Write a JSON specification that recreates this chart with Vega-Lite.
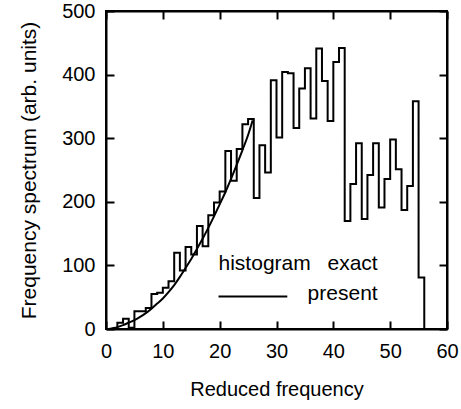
{
  "$schema": "https://vega.github.io/schema/vega-lite/v6.json",
  "width": 341,
  "height": 318,
  "autosize": "none",
  "padding": {"left": 106, "top": 11, "right": 14, "bottom": 80},
  "background": "white",
  "config": {
    "font": "Liberation Sans",
    "view": {"stroke": "black", "strokeWidth": 2},
    "axis": {
      "domainColor": "black",
      "domainWidth": 2,
      "tickColor": "black",
      "tickWidth": 2,
      "tickSize": -8,
      "grid": false,
      "labelColor": "black",
      "labelFont": "Liberation Sans",
      "labelFontSize": 20,
      "titleFont": "Liberation Sans",
      "titleFontSize": 20,
      "titleFontWeight": "normal",
      "titleColor": "black"
    }
  },
  "datasets": {
    "hist": [
      {"i": 0, "x": 2, "y": 0}, {"i": 1, "x": 2, "y": 10}, {"i": 2, "x": 3, "y": 16}, {"i": 3, "x": 4, "y": 2},
      {"i": 4, "x": 5, "y": 28}, {"i": 5, "x": 6, "y": 28}, {"i": 6, "x": 7, "y": 33}, {"i": 7, "x": 8, "y": 55},
      {"i": 8, "x": 9, "y": 57}, {"i": 9, "x": 10, "y": 65}, {"i": 10, "x": 11, "y": 75}, {"i": 11, "x": 12, "y": 120},
      {"i": 12, "x": 13, "y": 92}, {"i": 13, "x": 14, "y": 129}, {"i": 14, "x": 15, "y": 117}, {"i": 15, "x": 16, "y": 162},
      {"i": 16, "x": 17, "y": 130}, {"i": 17, "x": 18, "y": 179}, {"i": 18, "x": 19, "y": 199}, {"i": 19, "x": 20, "y": 216},
      {"i": 20, "x": 21, "y": 280}, {"i": 21, "x": 22, "y": 233}, {"i": 22, "x": 23, "y": 283}, {"i": 23, "x": 24, "y": 322},
      {"i": 24, "x": 25, "y": 330}, {"i": 25, "x": 26, "y": 206}, {"i": 26, "x": 27, "y": 289}, {"i": 27, "x": 28, "y": 246},
      {"i": 28, "x": 29, "y": 391}, {"i": 29, "x": 30, "y": 301}, {"i": 30, "x": 31, "y": 404}, {"i": 31, "x": 32, "y": 402},
      {"i": 32, "x": 33, "y": 316}, {"i": 33, "x": 34, "y": 378}, {"i": 34, "x": 35, "y": 410}, {"i": 35, "x": 36, "y": 331},
      {"i": 36, "x": 37, "y": 441}, {"i": 37, "x": 38, "y": 390}, {"i": 38, "x": 39, "y": 327}, {"i": 39, "x": 40, "y": 420},
      {"i": 40, "x": 41, "y": 442}, {"i": 41, "x": 42, "y": 170}, {"i": 42, "x": 43, "y": 228}, {"i": 43, "x": 44, "y": 292},
      {"i": 44, "x": 45, "y": 173}, {"i": 45, "x": 46, "y": 242}, {"i": 46, "x": 47, "y": 292}, {"i": 47, "x": 48, "y": 191},
      {"i": 48, "x": 49, "y": 236}, {"i": 49, "x": 50, "y": 298}, {"i": 50, "x": 51, "y": 251}, {"i": 51, "x": 52, "y": 187},
      {"i": 52, "x": 53, "y": 225}, {"i": 53, "x": 54, "y": 358}, {"i": 54, "x": 55, "y": 81}, {"i": 55, "x": 56, "y": 0}
    ],
    "curve": [
      {"x": 0.5, "y": 0}, {"x": 1, "y": 1}, {"x": 2, "y": 3}, {"x": 3, "y": 6}, {"x": 4, "y": 10},
      {"x": 5, "y": 14}, {"x": 6, "y": 19}, {"x": 7, "y": 25}, {"x": 8, "y": 32}, {"x": 9, "y": 40},
      {"x": 10, "y": 48}, {"x": 11, "y": 58}, {"x": 12, "y": 69}, {"x": 13, "y": 82}, {"x": 14, "y": 96},
      {"x": 15, "y": 110}, {"x": 16, "y": 126}, {"x": 17, "y": 142}, {"x": 18, "y": 159}, {"x": 19, "y": 177},
      {"x": 20, "y": 196}, {"x": 21, "y": 215}, {"x": 22, "y": 236}, {"x": 23, "y": 258}, {"x": 24, "y": 281},
      {"x": 25, "y": 305}, {"x": 25.8, "y": 328}
    ],
    "leftText": [{"label": "histogram", "x": 19.8, "y": 102}],
    "rightText": [{"label": "exact", "x": 47.8, "y": 102}, {"label": "present", "x": 47.8, "y": 55}],
    "legendLine": [{"x": 19.8, "x2": 31.9, "y": 51}]
  },
  "layer": [
    {
      "data": {"name": "hist"},
      "mark": {"type": "line", "interpolate": "step-after", "color": "black", "strokeWidth": 2},
      "encoding": {
        "x": {"field": "x", "type": "quantitative",
              "scale": {"domain": [0, 60], "nice": false},
              "axis": {"orient": "bottom", "values": [0, 10, 20, 30, 40, 50, 60], "title": "Reduced frequency",
                       "labelPadding": 20, "titlePadding": 18, "labelFlush": false}},
        "y": {"field": "y", "type": "quantitative",
              "scale": {"domain": [0, 500], "nice": false},
              "axis": {"orient": "left", "values": [0, 100, 200, 300, 400, 500], "title": "Frequency spectrum (arb. units)",
                       "labelPadding": 19, "titlePadding": 22, "titleFontSize": 21, "labelFlush": false}},
        "order": {"field": "i", "type": "quantitative"}
      }
    },
    {
      "data": {"name": "curve"},
      "mark": {"type": "line", "interpolate": "monotone", "color": "black", "strokeWidth": 2},
      "encoding": {
        "x": {"field": "x", "type": "quantitative",
              "axis": {"orient": "top", "values": [0, 10, 20, 30, 40, 50, 60], "labels": false, "title": null}},
        "y": {"field": "y", "type": "quantitative",
              "axis": {"orient": "right", "values": [0, 100, 200, 300, 400, 500], "labels": false, "title": null}}
      }
    },
    {
      "data": {"name": "legendLine"},
      "mark": {"type": "rule", "color": "black", "strokeWidth": 2},
      "encoding": {
        "x": {"field": "x", "type": "quantitative", "axis": null},
        "x2": {"field": "x2"},
        "y": {"field": "y", "type": "quantitative", "axis": null}
      }
    },
    {
      "data": {"name": "leftText"},
      "mark": {"type": "text", "align": "left", "baseline": "middle", "fontSize": 21, "color": "black", "font": "Liberation Sans"},
      "encoding": {
        "x": {"field": "x", "type": "quantitative", "axis": null},
        "y": {"field": "y", "type": "quantitative", "axis": null},
        "text": {"field": "label"}
      }
    },
    {
      "data": {"name": "rightText"},
      "mark": {"type": "text", "align": "right", "baseline": "middle", "fontSize": 21, "color": "black", "font": "Liberation Sans"},
      "encoding": {
        "x": {"field": "x", "type": "quantitative", "axis": null},
        "y": {"field": "y", "type": "quantitative", "axis": null},
        "text": {"field": "label"}
      }
    }
  ],
  "resolve": {"axis": {"x": "independent", "y": "independent"}}
}
